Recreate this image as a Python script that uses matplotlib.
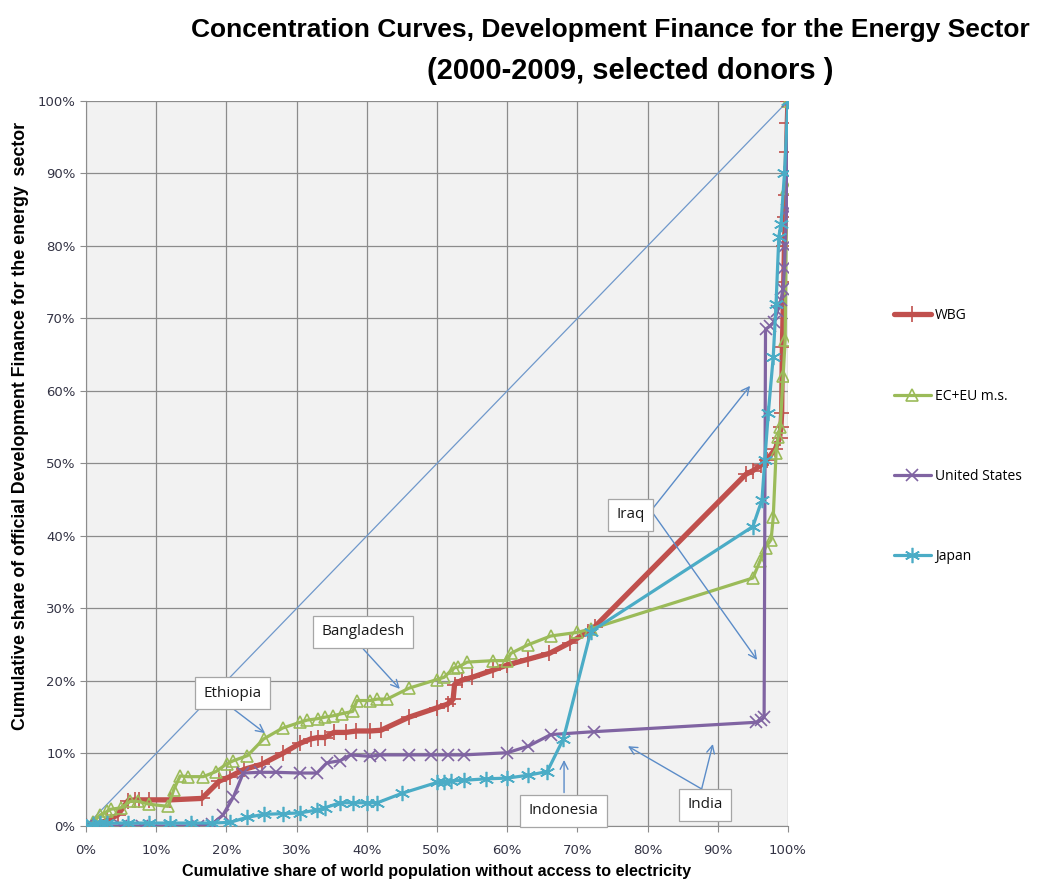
import matplotlib
matplotlib.use('Agg')
import matplotlib.pyplot as plt
from matplotlib.ticker import PercentFormatter

# cumulative share of population without electricity (%) / cumulative share of finance (%)
wbg_x = [0, 1, 2, 3, 4.5, 6, 7, 7.5, 9, 12, 16.5, 19, 20.5, 22.5, 25, 28, 30.5, 32, 33, 34, 35.3, 37,
         38.5, 40.5, 42, 46, 50, 51.5, 52.3, 52.5, 53.5, 55, 58, 60, 63, 66, 69, 71.5, 72.5,
         94, 95, 96.2, 97, 98.2, 98.8, 99, 99.1, 99.2, 99.4, 99.5, 99.6, 99.7, 99.8, 99.9, 100]
wbg_y = [0, 0.2, 0.3, 0.8, 1.5, 3.5, 3.6, 3.6, 3.6, 3.6, 3.8, 6.2, 6.8, 7.8, 8.5, 10, 11.4, 12, 12.2, 12.2, 12.9, 12.9,
         13.1, 13.1, 13.2, 15, 16.3, 16.8, 17.5, 19.5, 20.1, 20.5, 21.5, 22.2, 23, 23.8, 25.3, 26.8, 27.5,
         48.5, 49, 49.8, 50.5, 52, 53.5, 55, 57, 66, 75, 80, 84, 87, 93, 97, 100]

eu_x = [0, 1, 2, 3, 3.5, 5, 6.3, 7.4, 9, 11.7, 12.5, 13.4, 14.5, 16.7, 18.5, 20.1, 21, 23, 25.3, 28,
        30.5, 31.5, 33, 34, 35.2, 36.5, 38, 38.6, 40.5, 41.5, 42.9, 46, 50, 51, 52.4, 53, 54.3, 58, 60,
        60.5, 63, 66.2, 70, 72, 95, 96, 96.8, 97.6, 97.9, 98.3, 98.6, 98.9, 99.3, 99.6, 99.8, 100]
eu_y = [0, 0.5, 1.5, 2, 2.3, 2.5, 3.4, 3.4, 3, 2.7, 5, 6.9, 6.8, 6.8, 7.5, 8.6, 9, 9.7, 12, 13.5,
        14.3, 14.6, 14.8, 15, 15.2, 15.5, 15.8, 17.3, 17.3, 17.5, 17.5, 19, 20.2, 20.5, 21.8, 21.9, 22.6, 22.8, 22.8,
        23.8, 25, 26.2, 26.7, 27.2, 34.2, 36.5, 38.4, 39.5, 42.6, 51.4, 53.7, 55, 62, 67, 88, 100]

us_x = [0, 2, 5, 8, 12, 16, 18, 19.5, 21, 22.4, 24.8, 27, 30.5, 32.9, 34.3, 36.2, 37.7, 40.5, 41.9,
        46, 49.1, 51.5, 53.8, 60, 63, 66.2, 72.3, 95.5, 96.2, 96.6, 96.8, 97.5, 98, 98.5, 99, 99.3,
        99.5, 99.6, 99.8, 100]
us_y = [0, 0, 0, 0, 0, 0, 0.3, 1.5, 4, 7.3, 7.4, 7.4, 7.3, 7.3, 8.7, 9, 9.8, 9.6, 9.8,
        9.8, 9.8, 9.8, 9.8, 10.1, 11, 12.6, 13, 14.3, 14.6, 15, 68.5, 69, 69.5, 71, 72.5, 74,
        77, 80, 85, 100]

jp_x = [0, 1, 2, 3, 6, 9, 12, 15, 18, 20.5, 23, 25.3, 28, 30.5, 32.9, 34, 36.2, 38, 40, 41.5,
        45, 50, 51, 52, 53.8, 57, 60, 63, 65.7, 68, 71.9, 95, 96.3, 96.7, 97.2, 97.9, 98.3, 98.7,
        99, 99.5, 100]
jp_y = [0, 0.3, 0.4, 0.4, 0.4, 0.4, 0.4, 0.4, 0.4, 0.5, 1.2, 1.6, 1.7, 1.8, 2.2, 2.5, 3.2, 3.2, 3.2, 3.2,
        4.5, 6, 6.1, 6.2, 6.3, 6.5, 6.6, 7, 7.5, 12, 26.8, 41.3, 45, 50.5, 57, 64.7, 72, 81.3,
        83, 90, 100]

series = [
    ('WBG', wbg_x, wbg_y, '#C0504D', '+', 3.8, 11),
    ('EC+EU m.s.', eu_x, eu_y, '#9BBB59', '^', 2.3, 8),
    ('United States', us_x, us_y, '#8064A2', 'x', 2.3, 9),
    ('Japan', jp_x, jp_y, '#4BACC6', (6, 2, 0), 2.3, 11),
]

# label, text position, list of arrow heads, arrow tail
notes = [
    ('Bangladesh', (39.5, 26.8), [(44.7, 18.9)], (39.5, 24.4)),
    ('Ethiopia', (20.9, 18.3), [(25.5, 12.8)], (20.9, 16.2)),
    ('Iraq', (77.6, 42.9), [(94.6, 60.7), (95.6, 22.9)], (80.5, 43.5)),
    ('Indonesia', (68.0, 2.1), [(68.1, 9.1)], (68.1, 4.6)),
    ('India', (88.2, 2.9), [(77.2, 11.0), (89.3, 11.3)], (87.7, 5.1)),
]

bold_font = ['Liberation Sans', 'DejaVu Sans']

fig = plt.figure(figsize=(10.39, 8.83), dpi=100)
ax = fig.add_axes([0.0828, 0.0646, 0.6756, 0.8211])
ax.set_facecolor('#F2F2F2')

ax.plot([0, 100], [0, 100], color='#6F98CB', lw=0.9, zorder=2)

handles = []
for name, xs, ys, col, mk, lw, ms in series:
    h, = ax.plot(xs, ys, color=col, lw=lw, marker=mk, markersize=ms,
                 markerfacecolor='none' if mk == '^' else col,
                 markeredgecolor=col, markeredgewidth=1.2, label=name,
                 solid_joinstyle='round', solid_capstyle='round', zorder=3)
    handles.append(h)

for label, txt, heads, tail in notes:
    ax.text(txt[0], txt[1], label, ha='center', va='center', fontsize=11,
            family=['Open Sans', 'DejaVu Sans'], color='#1a1a1a', zorder=6,
            bbox=dict(boxstyle='square,pad=0.55', fc='white', ec='#A6A6A6', lw=0.9))
    for hd in heads:
        ax.annotate('', xy=hd, xytext=tail, zorder=5,
                    arrowprops=dict(arrowstyle='->', color='#5B8CC8', lw=1.0,
                                    mutation_scale=14, shrinkA=0, shrinkB=0))

ax.set_xlim(0, 100)
ax.set_ylim(0, 100)
ax.set_xticks(range(0, 101, 10))
ax.set_yticks(range(0, 101, 10))
ax.xaxis.set_major_formatter(PercentFormatter(decimals=0))
ax.yaxis.set_major_formatter(PercentFormatter(decimals=0))
ax.grid(True, color='#8C8C8C', lw=0.9, zorder=1)
ax.set_axisbelow(True)
for s in ['top', 'right']:
    ax.spines[s].set_visible(False)
for s in ['left', 'bottom']:
    ax.spines[s].set_color('#8C8C8C')
ax.tick_params(colors='#8C8C8C', labelcolor='#333344', labelsize=9.5, length=4)
ax.tick_params(axis='x', pad=9)

ax.set_xlabel('Cumulative share of world population without access to electricity',
              fontsize=11.6, fontweight='bold', family=bold_font, labelpad=5)
ax.set_ylabel('Cumulative share of official Development Finance for the energy  sector',
              fontsize=12.8, fontweight='bold', family=bold_font)
ax.yaxis.set_label_coords(-0.081, 0.552)

fig.text(0.587, 0.966, 'Concentration Curves, Development Finance for the Energy Sector',
         ha='center', va='center', fontsize=19, fontweight='bold', family=bold_font)
fig.text(0.607, 0.920, '(2000-2009, selected donors )',
         ha='center', va='center', fontsize=21, fontweight='bold', family=bold_font)

fig.legend(handles=handles, loc='upper left', bbox_to_anchor=(0.848, 0.665),
           frameon=False, handlelength=2.7, handletextpad=0.3,
           labelspacing=4.7, prop={'family': ['Open Sans', 'DejaVu Sans'], 'size': 10})

fig.savefig('out.png', dpi=100)
